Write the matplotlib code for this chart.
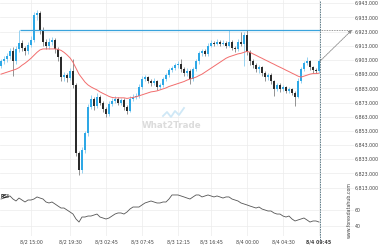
import matplotlib
matplotlib.use("Agg")
import matplotlib.pyplot as plt
from matplotlib.lines import Line2D
import numpy as np

close = [6902.1, 6903.5, 6905.6, 6909.1, 6902.1, 6910.5, 6915.3, 6911.8, 6909.1, 6913.9,
         6917.4, 6934.8, 6936.2, 6924.4, 6916.0, 6913.2, 6916.0, 6917.4, 6910.5, 6904.9,
         6890.9, 6892.3, 6890.2, 6895.1, 6885.4, 6837.3, 6825.4, 6839.4, 6851.2, 6870.0,
         6875.6, 6870.7, 6877.0, 6872.8, 6868.6, 6865.1, 6872.1, 6874.2, 6875.6, 6872.8,
         6874.9, 6870.0, 6867.2, 6875.6, 6877.0, 6877.7, 6884.0, 6889.5, 6890.9, 6888.2,
         6886.8, 6888.2, 6884.0, 6885.4, 6889.5, 6892.3, 6895.8, 6897.2, 6899.3, 6900.0,
         6896.5, 6893.7, 6895.1, 6889.5, 6896.5, 6902.1, 6907.7, 6909.1, 6907.0, 6913.2,
         6915.3, 6914.6, 6916.0, 6914.6, 6915.3, 6913.2, 6916.0, 6911.8, 6910.5, 6916.0,
         6914.6, 6920.9, 6908.4, 6902.1, 6899.3, 6896.5, 6897.9, 6893.7, 6890.9, 6892.3,
         6888.2, 6882.6, 6885.4, 6882.6, 6884.0, 6881.2, 6882.6, 6879.8, 6877.0, 6888.2,
         6896.5, 6900.7, 6902.1, 6897.9, 6895.8, 6895.1, 6902.1]
first_open = 6899.0
high = [6904.0, 6906.0, 6908.0, 6911.5, 6912.0, 6913.0, 6924.2, 6917.0, 6913.0, 6915.5,
        6920.0, 6937.0, 6938.5, 6937.5, 6926.0, 6918.0, 6918.5, 6919.0, 6918.5, 6912.0,
        6906.0, 6894.5, 6894.0, 6897.5, 6903.5, 6887.0, 6839.0, 6841.5, 6853.0, 6872.0,
        6878.0, 6877.0, 6879.5, 6878.5, 6874.0, 6870.0, 6874.0, 6876.5, 6877.5, 6877.0,
        6876.5, 6876.0, 6871.5, 6877.5, 6879.0, 6879.5, 6886.0, 6891.5, 6892.5, 6892.0,
        6889.5, 6890.0, 6889.0, 6887.0, 6891.0, 6894.0, 6897.5, 6899.0, 6901.0, 6902.0,
        6903.5, 6898.0, 6897.0, 6896.5, 6898.0, 6904.0, 6909.5, 6911.0, 6910.5, 6915.0,
        6917.0, 6916.5, 6917.5, 6917.0, 6917.0, 6916.5, 6924.4, 6917.0, 6913.0, 6917.5,
        6923.0, 6922.5, 6924.4, 6910.0, 6903.5, 6901.0, 6899.5, 6899.0, 6895.0, 6894.0,
        6893.5, 6889.0, 6887.0, 6886.5, 6885.5, 6885.0, 6884.0, 6883.5, 6881.0, 6890.0,
        6898.0, 6902.5, 6905.0, 6903.0, 6899.0, 6897.0, 6903.5]
low = [6897.5, 6900.5, 6901.8, 6904.0, 6891.5, 6900.0, 6908.5, 6909.5, 6906.5, 6907.5,
       6912.0, 6915.5, 6931.0, 6921.5, 6913.0, 6910.5, 6911.0, 6913.5, 6908.0, 6902.5,
       6888.5, 6888.0, 6887.5, 6889.0, 6883.5, 6835.0, 6822.0, 6823.5, 6837.5, 6849.5,
       6868.5, 6868.0, 6869.0, 6871.0, 6866.5, 6862.5, 6863.5, 6870.5, 6872.5, 6871.0,
       6871.5, 6868.0, 6865.0, 6866.0, 6874.0, 6875.5, 6876.5, 6882.5, 6888.0, 6886.5,
       6884.5, 6885.5, 6882.0, 6882.5, 6884.0, 6888.5, 6891.0, 6894.5, 6896.0, 6897.5,
       6894.5, 6891.5, 6892.0, 6886.0, 6888.0, 6895.0, 6900.5, 6906.0, 6905.5, 6906.0,
       6912.0, 6913.0, 6913.5, 6913.0, 6913.5, 6911.5, 6912.0, 6910.0, 6908.5, 6909.5,
       6913.0, 6898.5, 6906.5, 6899.5, 6897.0, 6894.5, 6894.0, 6891.5, 6888.5, 6889.0,
       6886.0, 6877.9, 6881.0, 6880.5, 6881.0, 6879.5, 6879.5, 6878.0, 6870.7, 6876.0,
       6887.0, 6895.0, 6899.5, 6896.0, 6894.0, 6893.5, 6894.0]
ma = [6893.0, 6893.7, 6894.4, 6895.1, 6895.8, 6896.5, 6897.6, 6899.3, 6900.7, 6902.4,
      6904.2, 6906.3, 6908.4, 6910.1, 6910.8, 6910.8, 6910.8, 6910.8, 6910.8, 6910.5,
      6909.8, 6908.4, 6906.6, 6904.5, 6901.4, 6897.2, 6893.0, 6890.2, 6887.4, 6885.4,
      6884.0, 6882.9, 6881.9, 6880.5, 6879.4, 6878.4, 6877.3, 6876.6, 6876.3, 6876.3,
      6876.3, 6876.3, 6875.9, 6876.3, 6876.6, 6877.0, 6877.7, 6878.4, 6879.1, 6879.8,
      6880.5, 6880.8, 6881.2, 6881.9, 6882.6, 6883.3, 6884.3, 6885.0, 6885.7, 6886.4,
      6887.1, 6887.8, 6888.8, 6889.5, 6890.2, 6890.9, 6892.0, 6893.0, 6894.4, 6895.8,
      6897.2, 6898.6, 6900.0, 6901.4, 6902.8, 6904.2, 6905.2, 6905.9, 6906.6, 6907.3,
      6907.7, 6908.4, 6909.1, 6908.4, 6907.3, 6906.3, 6905.2, 6904.2, 6903.1, 6902.1,
      6901.0, 6900.0, 6898.9, 6897.9, 6896.9, 6895.8, 6894.8, 6893.7, 6892.7, 6891.6,
      6890.9, 6891.6, 6892.3, 6893.0, 6893.4, 6893.4, 6893.7]
rsi = [72.7, 73.9, 75.2, 76.4, 72.7, 70.3, 73.9, 71.5, 69.1, 71.5,
       71.5, 72.7, 75.2, 73.9, 72.7, 69.1, 67.9, 69.1, 66.7, 64.2,
       61.8, 61.8, 59.4, 57.0, 54.5, 48.5, 44.8, 50.9, 50.9, 52.1,
       52.1, 53.3, 54.5, 50.9, 49.7, 48.5, 49.7, 52.1, 54.5, 55.8,
       55.8, 54.5, 57.0, 60.6, 63.0, 63.0, 63.0, 65.5, 67.9, 69.1,
       70.3, 69.1, 67.9, 67.9, 69.1, 69.1, 72.7, 77.6, 77.6, 77.6,
       76.4, 75.2, 73.9, 72.7, 75.2, 77.6, 77.6, 75.2, 76.4, 77.6,
       76.4, 75.2, 76.4, 75.2, 73.9, 75.2, 75.2, 72.7, 71.5, 70.3,
       67.9, 66.7, 65.5, 64.2, 63.0, 61.8, 63.0, 60.6, 59.4, 58.2,
       58.2, 55.8, 54.5, 54.5, 52.1, 50.9, 52.1, 48.5, 46.1, 47.3,
       48.5, 49.7, 47.3, 44.8, 46.1, 46.1, 44.8]
x_ticks = [10, 23, 35, 47, 59, 70, 82, 94, 106]
x_labels = ["8/2 15:00", "8/2 19:30", "8/3 02:45", "8/3 07:45", "8/3 12:15",
            "8/3 16:45", "8/4 00:00", "8/4 04:30", "8/4 09:45"]
price_ticks = [6813, 6823, 6833, 6843, 6853, 6863, 6873, 6883, 6893, 6903,
               6913, 6923, 6933, 6943]
rsi_ticks = [40, 60]
level = 6924.2
target_x = 117

W, H = 380, 250
fig = plt.figure(figsize=(W / 100, H / 100), dpi=100)
fig.patch.set_facecolor("white")

def fr(x0, y0, x1, y1):
    return [x0 / W, 1 - y1 / H, (x1 - x0) / W, (y1 - y0) / H]

AX_R = 354
ax = fig.add_axes(fr(0, 0, AX_R, 192))
ax2 = fig.add_axes(fr(0, 192, AX_R, 236))
x = np.arange(len(close))
opens = [first_open] + close[:-1]
xl = (-0.333, (AX_R - 1) / 3.0)

GRID = "#ececec"
for a in (ax, ax2):
    a.set_xlim(*xl)
    for s in a.spines.values():
        s.set_visible(False)
    a.set_facecolor("white")
    a.set_xticks(x_ticks)
    a.grid(True, color=GRID, linewidth=0.5)
    a.set_axisbelow(True)
    a.yaxis.tick_right()
    a.tick_params(axis="both", length=0, labelsize=3.4, colors="#444444", pad=0.8)

ax.set_ylim(6809.9, 6945.3)
ax.set_yticks(price_ticks)
ax.set_yticklabels([f"{v:,.3f}" for v in price_ticks])
ax.set_xticklabels([])

BLUE = "#2ea8e6"
DARK = "#2b2b2b"
for i in range(len(close)):
    o, c = opens[i], close[i]
    up = c >= o
    col = BLUE if up else DARK
    wcol = "#7cc6ee" if up else "#777777"
    ax.vlines(x[i], low[i], high[i], color=wcol, linewidth=0.55, zorder=2)
    bot = min(o, c)
    hgt = max(abs(c - o), 0.4)
    ax.bar(x[i], hgt, bottom=bot, width=0.7, color=col, linewidth=0, zorder=3)

ax.plot(x, ma, color="#f26d6d", linewidth=0.7, zorder=4)
ax.hlines(level, 6.5, 106.3, color="#3aa3dc", linewidth=0.9, zorder=5)
ax.hlines(level, 106.3, target_x, color="#777777", linewidth=0.6,
          linestyles=(0, (1, 1)), zorder=5)
ax.annotate("", xy=(target_x, level), xytext=(106.3, close[-1]),
            arrowprops=dict(arrowstyle="-|>", color="#888888", lw=0.6,
                            linestyle=(0, (1.5, 1)), mutation_scale=5,
                            shrinkA=0, shrinkB=0), zorder=6)

fig.text(172 / W, 1 - 126 / H, "What2Trade", fontsize=6.3, fontweight="bold",
         color="#dcdcdc", ha="center", va="center")
fig.add_artist(Line2D(np.array([163, 167, 171, 175, 179, 184]) / W,
                      1 - np.array([116, 112, 117, 111, 115, 108]) / H,
                      color="#cfe8f6", linewidth=1.3, transform=fig.transFigure))

ax2.set_ylim(27.9, 81.2)
ax2.set_yticks(rsi_ticks)
ax2.set_yticklabels([str(v) for v in rsi_ticks])
ax2.set_xticklabels(x_labels)
ax2.tick_params(axis="x", pad=2.5)
for lab in ax2.get_xticklabels():
    if lab.get_text() == "8/4 09:45":
        lab.set_fontweight("bold")
ax2.plot(x, rsi, color="#555555", linewidth=0.6, zorder=4)
fig.text(0.5 / W, 1 - 197 / H, "RSI", fontsize=3.4, fontweight="bold",
         color="#222222", ha="left", va="center")
fig.text(349 / W, 1 - 210 / H, "www.forexdatahub.com", fontsize=3.4,
         rotation=90, color="#444444", ha="center", va="center")

xp = 1 + 3 * 106.3
fig.add_artist(Line2D([xp / W, xp / W], [1 - 1 / H, 1 - 240 / H],
                      color="#4f6f7c", linewidth=0.6, linestyle=(0, (2, 1)),
                      transform=fig.transFigure))

fig.savefig("out.png", dpi=100, facecolor="white")
